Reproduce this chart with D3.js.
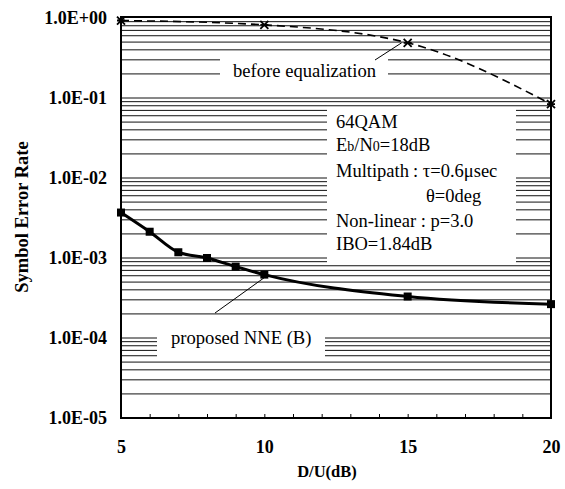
<!DOCTYPE html>
<html><head><meta charset="utf-8">
<script src="https://cdn.jsdelivr.net/npm/d3@7"></script>
<style>body{margin:0;background:#fff} text{font-family:"Liberation Serif","Times New Roman",serif}</style>
</head><body><svg id="c" width="565" height="489"></svg>
<script>
const dbNNE = [5, 6, 7, 8, 9, 10, 15, 20];
const serNNE = [3.7e-3, 2.13e-3, 1.18e-3, 1.0e-3, 7.8e-4, 6.2e-4, 3.3e-4, 2.65e-4];
const dbBefore = [5, 10, 15, 20];
const serBefore = [0.93, 0.82, 0.49, 0.084];
const xTicks = [5, 10, 15, 20];
const xMinor = d3.range(6, 20);
const yTicks = [1, 1e-1, 1e-2, 1e-3, 1e-4, 1e-5];
const yTickLabels = ["1.0E+00", "1.0E-01", "1.0E-02", "1.0E-03", "1.0E-04", "1.0E-05"];
const seriesLabels = ["before equalization", "proposed NNE (B)"];

const L = 121, R = 551, T = 18, B = 418;
const svg = d3.select("#c");
const x = d3.scaleLinear().domain([5, 20]).range([L, R]);
const y = d3.scaleLog().domain([1e-5, 1]).range([B, T]);

// grid lines at every 1..9 x 10^k
const gridVals = [];
for (let k = -5; k < 0; k++) for (let m = 1; m <= 9; m++) gridVals.push(m * Math.pow(10, k));
svg.append("g").selectAll("line").data(gridVals.filter(v => v > 1e-5)).join("line")
  .attr("x1", L).attr("x2", R).attr("y1", d => y(d)).attr("y2", d => y(d))
  .attr("stroke", "#111").attr("stroke-width", 1);

// white label boxes
const boxes = [
  {x0: 220, x1: 388, y0: 52, y1: 90},
  {x0: 327, x1: 516, y0: 109, y1: 263},
  {x0: 157, x1: 325, y0: 318, y1: 357}
];
svg.append("g").selectAll("rect").data(boxes).join("rect")
  .attr("x", d => d.x0).attr("y", d => d.y0).attr("width", d => d.x1 - d.x0).attr("height", d => d.y1 - d.y0)
  .attr("fill", "#fff");

// frame
svg.append("rect").attr("x", L).attr("y", T - 1).attr("width", R - L).attr("height", B - T + 1)
  .attr("fill", "none").attr("stroke", "#000").attr("stroke-width", 2);

// minor x ticks
svg.append("g").attr("transform", `translate(0,${B})`)
  .call(d3.axisBottom(x).tickValues(xMinor).tickSize(-4).tickFormat(""))
  .call(g => g.select(".domain").remove())
  .call(g => g.selectAll("line").attr("stroke", "#000").attr("stroke-width", 1));

// x tick labels
svg.append("g").attr("transform", `translate(0,${B})`)
  .call(d3.axisBottom(x).tickValues(xTicks).tickSize(0).tickPadding(22).tickFormat(d3.format("d")))
  .call(g => g.select(".domain").remove())
  .call(g => g.selectAll("text").attr("font-family", "Liberation Serif").attr("font-weight", "bold").attr("font-size", 18).attr("fill", "#000"));

// y tick labels
svg.append("g").attr("transform", `translate(${L},0)`)
  .call(d3.axisLeft(y).tickValues(yTicks).tickSize(0).tickPadding(14).tickFormat((d, i) => yTickLabels[i]))
  .call(g => g.select(".domain").remove())
  .call(g => g.selectAll("text").attr("font-family", "Liberation Serif").attr("font-weight", "bold").attr("font-size", 18).attr("fill", "#000"));

// axis titles
svg.append("text").attr("x", 327).attr("y", 477).attr("text-anchor", "middle")
  .attr("font-weight", "bold").attr("font-size", 16.5).text("D/U(dB)");
svg.append("text").attr("transform", `translate(28,217) rotate(-90)`).attr("text-anchor", "middle")
  .attr("font-weight", "bold").attr("font-size", 18.5).text("Symbol Error Rate");

// before equalization: dashed
const before = dbBefore.map((d, i) => [d, serBefore[i]]);
svg.append("path").datum(before)
  .attr("d", d3.line().x(d => x(d[0])).y(d => y(d[1])).curve(d3.curveMonotoneX))
  .attr("fill", "none").attr("stroke", "#000").attr("stroke-width", 1.6).attr("stroke-dasharray", "8,5");
svg.append("g").selectAll("path").data(before).join("path")
  .attr("transform", d => `translate(${x(d[0])},${y(d[1])})`)
  .attr("d", "M-4,-4L4,4M-4,4L4,-4M-4,0L4,0")
  .attr("stroke", "#000").attr("stroke-width", 1.8);

// proposed NNE (B)
const nne = dbNNE.map((d, i) => [d, serNNE[i]]);
svg.append("path").datum(nne)
  .attr("d", d3.line().x(d => x(d[0])).y(d => y(d[1])).curve(d3.curveMonotoneX))
  .attr("fill", "none").attr("stroke", "#000").attr("stroke-width", 3);
svg.append("g").selectAll("rect").data(nne).join("rect")
  .attr("x", d => x(d[0]) - 4).attr("y", d => y(d[1]) - 4).attr("width", 8).attr("height", 8)
  .attr("fill", "#000");

// series labels with leader lines
svg.append("text").attr("x", 233).attr("y", 77).attr("font-size", 18.6).text(seriesLabels[0]);
svg.append("line").attr("x1", 375).attr("y1", 60).attr("x2", x(15) - 6).attr("y2", y(serBefore[2]))
  .attr("stroke", "#000").attr("stroke-width", 1);
svg.append("text").attr("x", 171).attr("y", 344).attr("font-size", 18.6).text(seriesLabels[1]);
svg.append("line").attr("x1", 215).attr("y1", 313).attr("x2", x(10)).attr("y2", y(serNNE[5]) + 3)
  .attr("stroke", "#000").attr("stroke-width", 1);

// info text
const info = svg.append("g").attr("font-size", 18.5);
info.append("text").attr("x", 336).attr("y", 128).text("64QAM");
const eb = info.append("text").attr("x", 336).attr("y", 151);
eb.append("tspan").text("E");
eb.append("tspan").attr("font-size", 14).text("b");
eb.append("tspan").text("/N");
eb.append("tspan").attr("font-size", 14).text("0");
eb.append("tspan").text("=18dB");
info.append("text").attr("x", 336).attr("y", 177).text("Multipath");
info.append("text").attr("x", 413).attr("y", 177).text(": τ=0.6μsec");
info.append("text").attr("x", 426).attr("y", 202).text("θ=0deg");
info.append("text").attr("x", 336).attr("y", 227).text("Non-linear : p=3.0");
info.append("text").attr("x", 336).attr("y", 250).text("IBO=1.84dB");
</script></body></html>
